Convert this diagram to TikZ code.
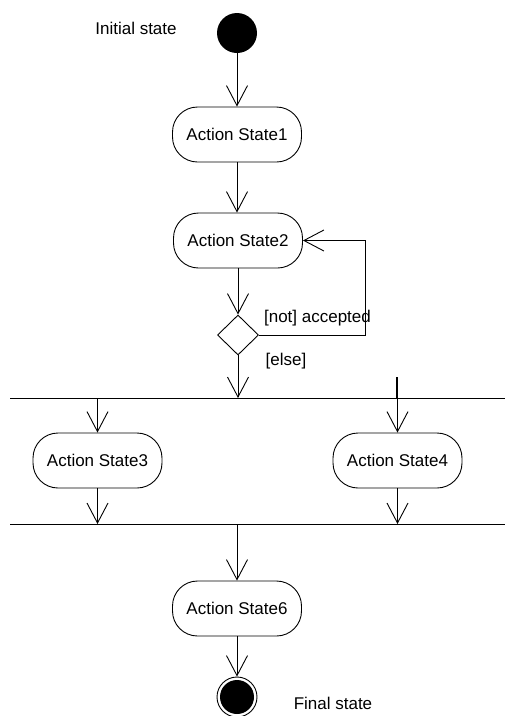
\documentclass[tikz,border=0pt]{standalone}
\usepackage{fontspec}
\setmainfont{Liberation Sans}
\usetikzlibrary{arrows.meta,shapes.geometric}
\begin{document}
\begin{tikzpicture}[x=1pt,y=-1pt,
  every node/.style={font=\fontsize{17}{20}\selectfont},
  line/.style={line width=0.9pt},
  flow/.style={line, -{Straight Barb[length=20pt,width=21pt,line width=0.9pt]}},
  action/.style={draw, line width=0.9pt, rectangle, rounded corners=25pt,
    minimum width=129pt, minimum height=55pt, inner sep=0pt},
  decision/.style={draw, line width=0.9pt, diamond, minimum width=41pt,
    minimum height=40pt, inner sep=0pt},
  startdot/.style={circle, fill=black, minimum size=40pt, inner sep=0pt},
  enddot/.style={circle, draw, line width=0.9pt, minimum size=40pt, inner sep=0pt},
  label/.style={inner sep=0pt}]
\useasboundingbox (0,0) rectangle (505,716);

% states
\node[startdot] (init) at (237,33) {};
\node[label] (initlbl) at (136,28) {Initial state};
\node[action] (a1) at (237,134.5) {Action State1};
\node[action] (a2) at (238,240.5) {Action State2};
\node[decision] (dec) at (238,335) {};
\node[label] (notacc) at (317.5,318) {[not] accepted};
\node[label] (elselbl) at (286,361) {[else]};
\node[action] (a3) at (97.5,460.5) {Action State3};
\node[action] (a4) at (397.5,460.5) {Action State4};
\node[action] (a6) at (237,608.5) {Action State6};
\node[enddot] (final) at (237,697) {};
\fill (final.center) circle (17pt);
\node[label] (finallbl) at (333,703) {Final state};

% synchronisation bars
\coordinate (bar1w) at (10,398);
\coordinate (bar1e) at (505,398);
\coordinate (bar2w) at (10,524);
\coordinate (bar2e) at (505,524);
\draw[line] (bar1w) -- (bar1e);
\draw[line] (bar2w) -- (bar2e);
\coordinate (stub) at (397,377);

% transitions
\draw[flow] (init.south) -- (a1.north);
\draw[flow] (a1.south) -- (a1.south |- a2.north);
\draw[flow] (a2.south) -- (dec.north);
\draw[flow] (dec.east) -- ++(106,0) |- (a2.east);
\draw[flow] (dec.south) -- (dec.south |- bar1w);
\draw[line width=2pt] (stub) -- (stub |- bar1w);
\draw[flow] (a3.north |- bar1w) -- (a3.north);
\draw[flow] (a4.north |- bar1w) -- (a4.north);
\draw[flow] (a3.south) -- (a3.south |- bar2w);
\draw[flow] (a4.south) -- (a4.south |- bar2w);
\draw[flow] (a6.north |- bar2w) -- (a6.north);
\draw[flow] (a6.south) -- (final.north);
\end{tikzpicture}
\end{document}
